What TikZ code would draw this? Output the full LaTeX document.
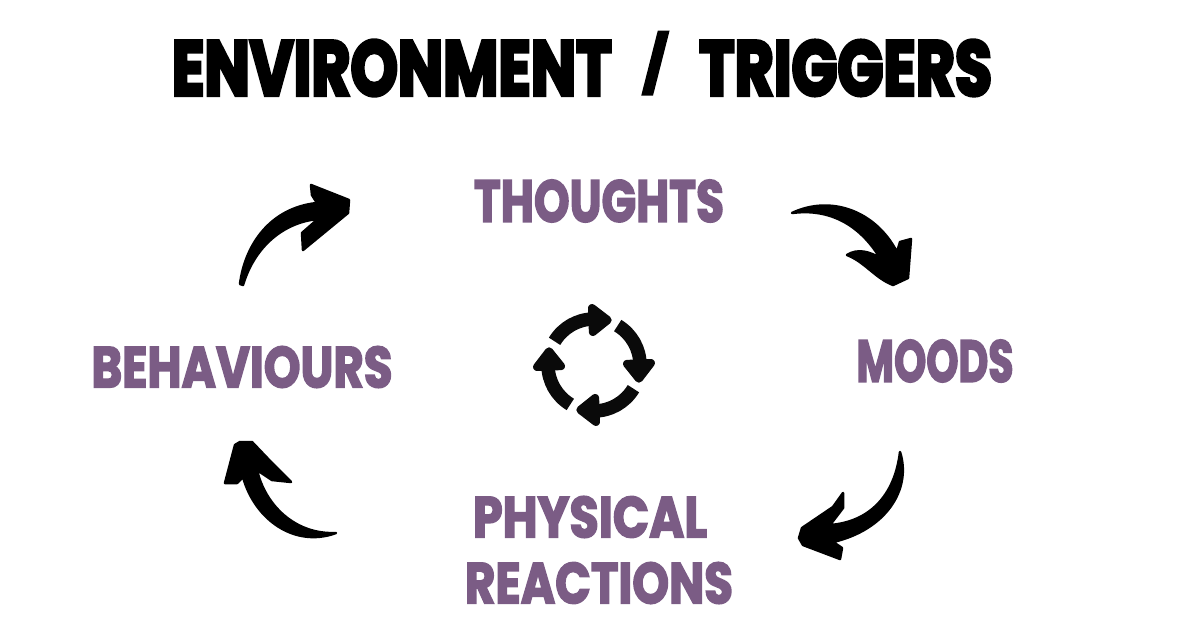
\documentclass[tikz,border=0pt]{standalone}
\usepackage{fontspec}
\usepackage{graphicx}
\newfontfamily\brushfont[FakeBold=3]{Poppins}
\newfontfamily\brushheavy[FakeBold=5]{Poppins}
\definecolor{labelpurple}{HTML}{7B5C85}
\definecolor{inkblack}{HTML}{0A0A0A}
\newdimen\pxunit
\pxunit=0.02cm
\newcommand{\brushtext}[3]{\resizebox{#1\pxunit}{#2\pxunit}{\brushfont\bfseries #3}}
\newcommand{\brushtitle}[3]{\resizebox{#1\pxunit}{#2\pxunit}{\brushheavy\bfseries #3}}
\newcommand{\thinslash}{\smash{\raisebox{0.14em}{\scalebox{1}[0.72]{\brushfont\bfseries /}}}}
\tikzset{
  titletext/.style={inner sep=0pt,text=black},
  steptext/.style={inner sep=0pt,text=labelpurple},
  brusharrow/.style={fill=black,draw=black,line width=0.05cm,line join=round},
  looparc/.style={draw=inkblack,line width=0.27cm},
  loophead/.style={fill=inkblack,draw=inkblack,line width=0.16cm,line join=round}
}
\begin{document}
\begin{tikzpicture}[x=0.02cm,y=-0.02cm]
    \useasboundingbox (0,0) rectangle (1200,628);
    % texts
    \node[titletext] (title) at (582,68) {\brushtitle{820}{55}{ENVIRONMENT\hspace{0.5em}\thinslash\hspace{0.5em}TRIGGERS}};
    \node[steptext] (thoughts) at (599,201) {\brushtext{250}{42}{THOUGHTS}};
    \node[steptext] (moods) at (935,361) {\brushtext{157}{42}{MOODS}};
    \node[steptext] (physical) at (590,517) {\brushtext{234}{41}{PHYSICAL}};
    \node[steptext] (reactions) at (599,583) {\brushtext{268}{41}{REACTIONS}};
    \node[steptext] (behaviours) at (242,367) {\brushtext{301}{41}{BEHAVIOURS}};
    % behaviours to thoughts
    \draw[brusharrow] (240,284) .. controls (245,245) and (270,208) .. (317,203)
        -- (312,195) -- (311,185) -- (349,200) -- (348,213) -- (303,250) -- (302,233) -- (318,219)
        .. controls (285,222) and (255,245) .. (243,285) -- cycle;
    % thoughts to moods
    \draw[brusharrow] (792,213) .. controls (830,195) and (875,210) .. (897,252)
        -- (900,242) -- (911,239) -- (908,278) -- (893,285)
        .. controls (875,278) and (865,262) .. (847,255)
        .. controls (858,248) and (870,252) .. (880,258)
        .. controls (860,225) and (830,208) .. (792,213) -- cycle;
    % moods to physical reactions
    \draw[brusharrow] (900,452) .. controls (912,490) and (885,530) .. (833,542)
        -- (842,548) -- (840,559) -- (803,545) -- (799,538) -- (802,528) -- (833,507) -- (843,493) -- (843,508) -- (830,525)
        .. controls (870,522) and (895,495) .. (900,452) -- cycle;
    % physical reactions to behaviours
    \draw[brusharrow] (336,533) .. controls (295,548) and (255,520) .. (243,477)
        -- (237,483) -- (225,483) -- (235,445) -- (240,442) -- (252,442) -- (272,463) -- (291,482)
        -- (272,480) -- (257,470)
        .. controls (265,505) and (295,535) .. (336,533) -- cycle;
    % centre icon
    \foreach \ang in {0,90,180,270} {
        \begin{scope}[shift={(594,365)},x=0.02cm,y=0.02cm,rotate=\ang]
            \draw[looparc] (149:46) arc[start angle=149,end angle=90,radius=46];
            \fill[loophead] (92:33) -- (92:57) -- (73:47) -- cycle;
        \end{scope}
    }
\end{tikzpicture}
\end{document}
